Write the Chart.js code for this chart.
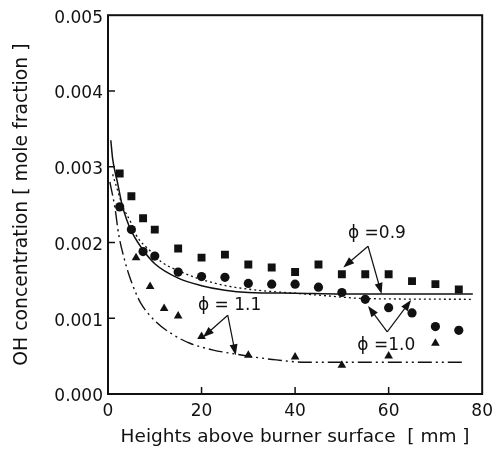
<!DOCTYPE html>
<html>
<head>
<meta charset="utf-8">
<script src="https://cdn.jsdelivr.net/npm/chart.js@4/dist/chart.umd.min.js"></script>
<style>
  html, body { margin: 0; background: #fff; }
</style>
</head>
<body>
<canvas id="ohChart" width="500" height="451"></canvas>
<script>
// measured points (heights in mm, OH mole fraction)
const squareX = [2.5, 5, 7.5, 10, 15, 20, 25, 30, 35, 40, 45, 50, 55, 60, 65, 70, 75];
const squareY = [0.00291, 0.00261, 0.00232, 0.00217, 0.00192, 0.00180, 0.00184, 0.00171, 0.00167, 0.00161, 0.00171, 0.00158, 0.00158, 0.00158, 0.00149, 0.00145, 0.00138];
const circleX = [2.5, 5, 7.5, 10, 15, 20, 25, 30, 35, 40, 45, 50, 55, 60, 65, 70, 75];
const circleY = [0.00247, 0.00217, 0.00188, 0.00182, 0.00161, 0.00155, 0.00154, 0.00146, 0.00145, 0.00145, 0.00141, 0.00134, 0.00125, 0.00114, 0.00107, 0.00089, 0.00084];
const triangleX = [6, 9, 12, 15, 20, 30, 40, 50, 60, 70];
const triangleY = [0.0018, 0.00142, 0.00113, 0.00103, 0.00076, 0.00051, 0.00049, 0.00038, 0.0005, 0.00067];

// calculated profiles
const solidX = [0.6, 1, 2, 3, 4, 5, 7.5, 10, 15, 20, 25, 30, 40, 50, 78];
const solidY = [0.00335, 0.0031, 0.0028, 0.0025, 0.0023, 0.00215, 0.0019, 0.00172, 0.00153, 0.00143, 0.00137, 0.00134, 0.00133, 0.00132, 0.00132];
const dottedX = [1, 2, 3, 5, 6, 9, 11.5, 15, 19, 23, 26, 32, 40, 46, 55, 78];
const dottedY = [0.0029, 0.0027, 0.0025, 0.00225, 0.0021, 0.00189, 0.00174, 0.00163, 0.00153, 0.00146, 0.00142, 0.00137, 0.00133, 0.0013, 0.00126, 0.00125];
const dashDotX = [0.4, 1.5, 2.3, 3.5, 4.5, 5.7, 7, 10.3, 14, 17.5, 22.5, 27, 31, 36, 42, 50, 76];
const dashDotY = [0.0028, 0.00245, 0.0021, 0.00178, 0.00157, 0.00137, 0.0012, 0.00095, 0.00078, 0.00067, 0.00058, 0.00053, 0.00049, 0.00045, 0.00042, 0.00042, 0.00042];

const xTicks = [0, 20, 40, 60, 80];
const yTicks = [0, 0.001, 0.002, 0.003, 0.004, 0.005];

// labels with arrows, in data units: text position, arrow start, arrow tips
const phiLabels = [
  { text: "\u03D5 =0.9", at: [57.5, 0.00212], from: [55.6, 0.00195], tips: [[50.3, 0.00167], [58.5, 0.00132]] },
  { text: "\u03D5 =1.0", at: [59.5, 0.00064], from: [59.7, 0.00082], tips: [[55.6, 0.00116], [64.8, 0.00124]] },
  { text: "\u03D5 = 1.1", at: [26, 0.00117], from: [25.6, 0.00104], tips: [[20.3, 0.00075], [27.3, 0.00051]] }
];

const toPts = (xs, ys) => xs.map((x, i) => ({ x: x, y: ys[i] }));
const FONT = "'DejaVu Sans', 'Liberation Sans', Arial, sans-serif";
const INK = "#111";

const markers = (xs, ys, style, r) => ({
  data: toPts(xs, ys),
  showLine: false,
  pointStyle: style,
  pointRadius: r,
  pointBackgroundColor: INK,
  pointBorderColor: INK,
  pointBorderWidth: 0
});
const curve = (xs, ys, dash, w) => ({
  data: toPts(xs, ys),
  showLine: true,
  pointRadius: 0,
  borderColor: INK,
  borderWidth: w,
  borderDash: dash,
  cubicInterpolationMode: "monotone",
  fill: false
});

// frame, inward ticks and phi labels
const framePlugin = {
  id: "frame",
  afterDraw(chart) {
    const ctx = chart.ctx;
    const a = chart.chartArea;
    const sx = chart.scales.x, sy = chart.scales.y;
    ctx.save();
    ctx.strokeStyle = INK;
    ctx.lineWidth = 2;
    ctx.strokeRect(a.left, a.top, a.right - a.left, a.bottom - a.top);
    ctx.lineWidth = 1.5;
    ctx.beginPath();
    xTicks.slice(1, -1).forEach(v => {
      const px = sx.getPixelForValue(v);
      ctx.moveTo(px, a.bottom);
      ctx.lineTo(px, a.bottom - 7);
    });
    yTicks.slice(1, -1).forEach(v => {
      const py = sy.getPixelForValue(v);
      ctx.moveTo(a.left, py);
      ctx.lineTo(a.left + 7, py);
    });
    ctx.stroke();

    ctx.fillStyle = INK;
    ctx.font = "17px " + FONT;
    ctx.textAlign = "center";
    ctx.textBaseline = "middle";
    phiLabels.forEach(l => {
      ctx.fillText(l.text, sx.getPixelForValue(l.at[0]), sy.getPixelForValue(l.at[1]));
      const fx = sx.getPixelForValue(l.from[0]), fy = sy.getPixelForValue(l.from[1]);
      l.tips.forEach(t => {
        const tx = sx.getPixelForValue(t[0]), ty = sy.getPixelForValue(t[1]);
        const ang = Math.atan2(ty - fy, tx - fx);
        ctx.lineWidth = 1.2;
        ctx.beginPath();
        ctx.moveTo(fx, fy);
        ctx.lineTo(tx - 6 * Math.cos(ang), ty - 6 * Math.sin(ang));
        ctx.stroke();
        ctx.beginPath();
        ctx.moveTo(tx, ty);
        ctx.lineTo(tx - 11 * Math.cos(ang) + 4 * Math.sin(ang), ty - 11 * Math.sin(ang) - 4 * Math.cos(ang));
        ctx.lineTo(tx - 11 * Math.cos(ang) - 4 * Math.sin(ang), ty - 11 * Math.sin(ang) + 4 * Math.cos(ang));
        ctx.closePath();
        ctx.fill();
      });
    });
    ctx.restore();
  }
};

new Chart(document.getElementById("ohChart"), {
  type: "scatter",
  data: {
    datasets: [
      markers(squareX, squareY, "rect", 5.6),
      markers(circleX, circleY, "circle", 4.6),
      markers(triangleX, triangleY, "triangle", 5),
      curve(solidX, solidY, [], 1.5),
      curve(dottedX, dottedY, [2, 3], 1.3),
      curve(dashDotX, dashDotY, [14, 4, 2, 4, 2, 4], 1.4)
    ]
  },
  options: {
    responsive: false,
    animation: false,
    layout: { padding: { left: 0, right: 10, top: 14, bottom: 0 } },
    plugins: { legend: { display: false }, tooltip: { enabled: false } },
    scales: {
      x: {
        type: "linear",
        min: 0, max: 80,
        afterBuildTicks: s => { s.ticks = xTicks.map(v => ({ value: v })); },
        afterFit: s => { s.height = 57; },
        grid: { display: false, drawTicks: false },
        border: { display: false },
        ticks: { color: INK, padding: 7, font: { family: FONT, size: 17 } },
        title: { display: true, text: "Heights above burner surface  [ mm ]", color: INK, padding: { top: 0, bottom: 3 }, font: { family: FONT, size: 18.5 } }
      },
      y: {
        type: "linear",
        min: 0, max: 0.005,
        afterBuildTicks: s => { s.ticks = yTicks.map(v => ({ value: v })); },
        afterFit: s => { s.width = 108; },
        grid: { display: false, drawTicks: false },
        border: { display: false },
        ticks: { color: INK, padding: 5, labelOffset: 3, font: { family: FONT, size: 17 }, callback: v => v.toFixed(3) },
        title: { display: true, text: "OH concentration [ mole fraction ]", color: INK, padding: { top: 11, bottom: 0 }, font: { family: FONT, size: 18.8 } }
      }
    }
  },
  plugins: [framePlugin]
});
</script>
</body>
</html>
